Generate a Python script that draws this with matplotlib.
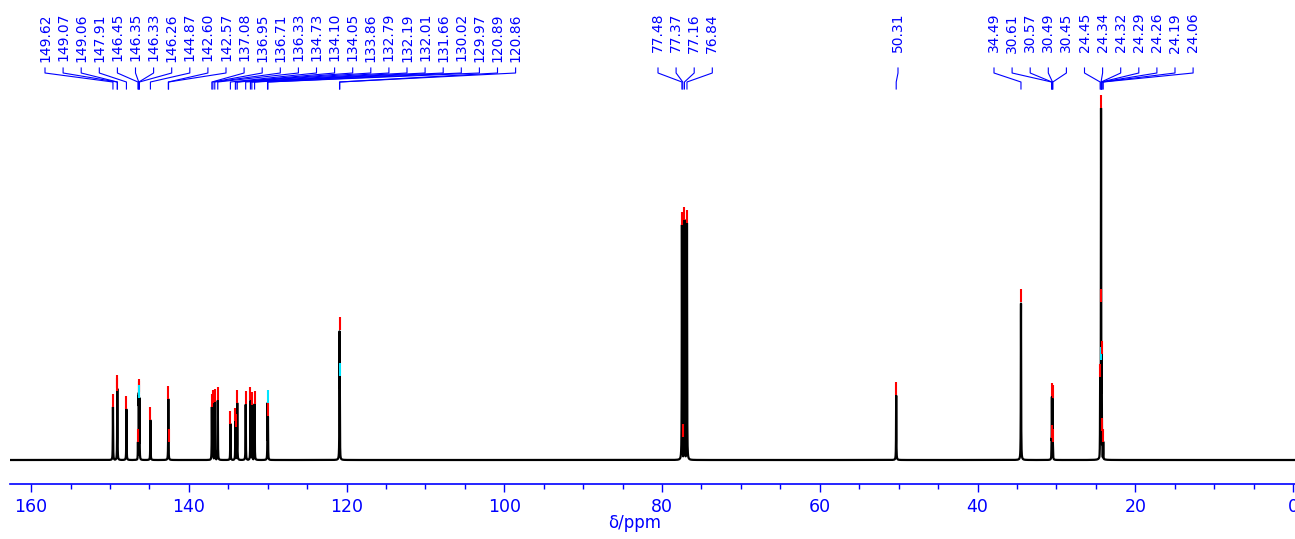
import numpy as np
import matplotlib.pyplot as plt
from matplotlib.ticker import MultipleLocator

# picked peaks (ppm), their heights and marker colours
ppm = [149.62, 149.07, 149.06, 147.91, 146.45, 146.35, 146.33, 146.26, 144.87,
       142.60, 142.57, 137.08, 136.95, 136.71, 136.33, 134.73, 134.10, 134.05,
       133.86, 132.79, 132.19, 132.01, 131.66, 130.02, 129.97, 120.89, 120.86,
       77.48, 77.37, 77.16, 76.84,
       50.31,
       34.49, 30.61, 30.57, 30.49, 30.45, 24.45, 24.34, 24.32, 24.29, 24.26,
       24.19, 24.06]
height = [0.145, 0.197, 0.190, 0.140, 0.050, 0.186, 0.180, 0.170, 0.110,
          0.167, 0.050, 0.145, 0.157, 0.160, 0.164, 0.100, 0.107, 0.090,
          0.156, 0.153, 0.164, 0.150, 0.153, 0.156, 0.120, 0.356, 0.230,
          0.644, 0.063, 0.658, 0.649,
          0.178,
          0.433, 0.060, 0.175, 0.170, 0.050, 0.227, 0.964, 0.433, 0.274, 0.290,
          0.080, 0.050]
mark = ['r'] * len(ppm)
for i in (7, 23, 26, 40):
    mark[i] = 'c'
labels = ['%.2f' % p for p in ppm]

# label groups: (first index, last index + 1, x of first label in px)
groups = [(0, 27, 45), (27, 31, 658), (31, 32, 898), (32, 44, 994)]
spacing = 18.1

# pixel <-> data helpers (figure is 1295 x 539 px)
PX0, PXPP = 1293.0, 7.887     # x px of 0 ppm, px per ppm
PY0, PYU = 460.0, 365.0       # y px of baseline, px per unit height
def px2x(px):
    return (PX0 - px) / PXPP
def py2y(py):
    return (PY0 - py) / PYU

fig = plt.figure(figsize=(12.95, 5.39), dpi=100)
ax = fig.add_axes([10 / 1295, 55 / 539, 1 - 10 / 1295, 484 / 539])
ax.set_xlim(px2x(10), px2x(1295))
ax.set_ylim(py2y(484), py2y(0))

# spectrum: narrow lorentzians on a fine grid
x = np.arange(163.0, -1.0, -0.004)
g = 0.02
spec = np.zeros_like(x)
for p, h in zip(ppm, height):
    spec = np.maximum(spec, h * g**2 / ((x - p)**2 + g**2))
ax.plot(x, spec, color='black', lw=1.6, zorder=2)

# peak pick markers
dm = 13 / PYU
for p, h, c in zip(ppm, height, mark):
    col = 'red' if c == 'r' else '#00e5ff'
    ax.plot([p, p], [h, h + dm], color=col, lw=1.5, zorder=3, solid_capstyle='butt')

# labels with leader lines
for i0, i1, start in groups:
    for k, i in enumerate(range(i0, i1)):
        lx = start + k * spacing
        ax.text(px2x(lx), py2y(13), labels[i], rotation=90, ha='center', va='top',
                color='blue', fontsize=10, family=['DejaVu Sans'])
        pp = ppm[i]
        ax.plot([px2x(lx), px2x(lx), pp, pp],
                [py2y(68), py2y(73), py2y(82), py2y(89)],
                color='blue', lw=0.8, zorder=1)

# axis styling
for s in ('top', 'left', 'right'):
    ax.spines[s].set_visible(False)
ax.spines['bottom'].set_color('blue')
ax.spines['bottom'].set_linewidth(1.2)
ax.set_yticks([])
ax.xaxis.set_major_locator(MultipleLocator(20))
ax.xaxis.set_minor_locator(MultipleLocator(5))
ax.tick_params(axis='x', which='major', direction='out', length=6, width=1,
               color='blue', labelcolor='blue', labelsize=12.5, pad=4)
ax.tick_params(axis='x', which='minor', direction='out', length=3.5, width=1,
               color='blue')
ax.set_xlabel('δ/ppm', color='blue', fontsize=12, labelpad=0)
ax.xaxis.set_label_coords((635 - 10) / 1285, -0.062)

fig.savefig('out.png', dpi=100)
